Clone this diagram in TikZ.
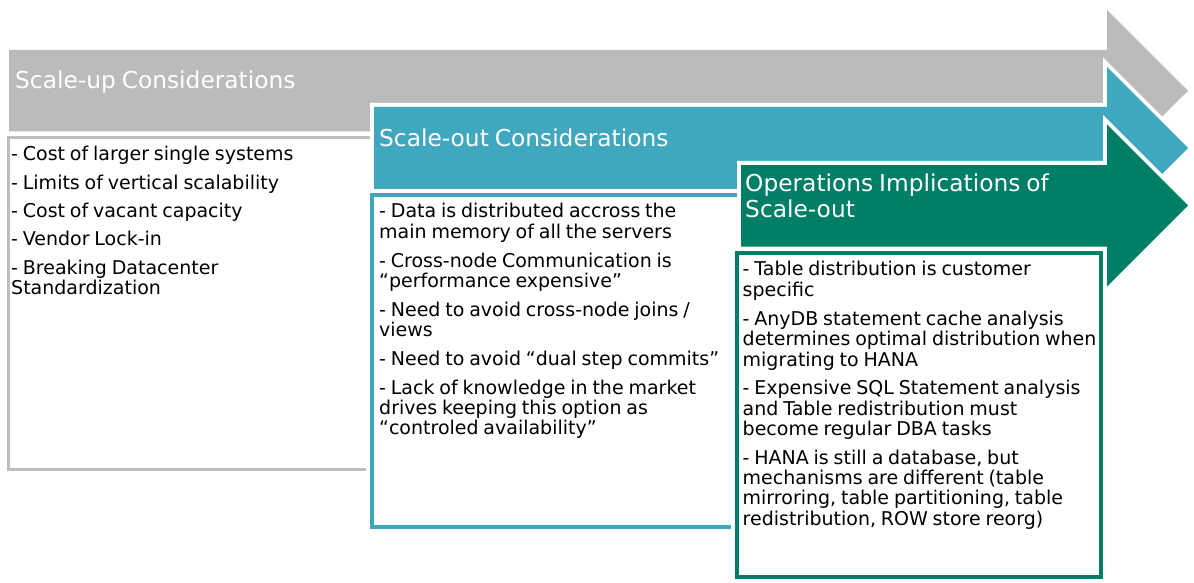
\documentclass[tikz,border=0pt]{standalone}
\usepackage{fontspec}
\setmainfont{DejaVu Sans}[WordSpace=0.8]
\definecolor{upgrey}{RGB}{186,187,189}
\definecolor{boxgrey}{RGB}{190,190,190}
\definecolor{outblue}{RGB}{64,168,190}
\definecolor{opsgreen}{RGB}{0,126,102}

\begin{document}
\begin{tikzpicture}[x=1pt,y=-1pt,
  header/.style={preaction={draw=white,line width=8pt}},
  listbox/.style={fill=white,line width=3.5pt,preaction={draw=white,line width=11.5pt}},
  titletext/.style={anchor=north west,inner sep=0pt,align=left,text=white,font=\fontsize{23.3}{24.3}\selectfont},
  listtext/.style={anchor=north west,inner sep=0pt,align=left,text=black,font=\fontsize{19}{20.3}\selectfont}
]
\useasboundingbox (0,0) rectangle (1194,583);

% scale-up
\fill[upgrey,header] (9,50) -- (1107,50) -- (1107,10) -- (1188,90.75) -- (1107,171.5) -- (1107,131.5) -- (9,131.5) -- cycle;
\draw[listbox,draw=boxgrey] (8.5,137.5) rectangle (720,469.5);

% scale-out
\fill[outblue,header] (374,107) -- (1107,107) -- (1107,67) -- (1188,148) -- (1107,229) -- (1107,189) -- (374,189) -- cycle;
\draw[listbox,draw=outblue] (372,195) rectangle (1000,527);

% operations
\fill[opsgreen,header] (741,165) -- (1107,165) -- (1107,124.5) -- (1188,205.5) -- (1107,286.5) -- (1107,246.5) -- (741,246.5) -- cycle;
\draw[listbox,draw=opsgreen] (737,253) rectangle (1101,577);

\node[titletext] (h1) at (15,71) {\strut Scale-up Considerations};
\node[titletext] (h2) at (379,129) {\strut Scale-out Considerations};
\node[titletext] (h3) at (745,173.7) {\strut Operations Implications of\\Scale-out};

\node[listtext] (b1) at (11,145.8) {\strut- Cost of larger single systems\\[7.8pt]
- Limits of vertical scalability\\[7.8pt]
- Cost of vacant capacity\\[7.8pt]
- Vendor Lock-in\\[7.8pt]
- Breaking Datacenter\\Standardization};

\node[listtext] (b2) at (379,202.8) {\strut- Data is distributed accross the\\main memory of all the servers\\[8.4pt]
- Cross-node Communication is\\“performance expensive”\\[8.4pt]
- Need to avoid cross-node joins /\\views\\[8.4pt]
- Need to avoid “dual step commits”\\[8.4pt]
- Lack of knowledge in the market\\drives keeping this option as\\“controled availability”};

\node[listtext] (b3) at (742.5,260.8) {\strut- Table distribution is customer\\specific\\[8.4pt]
- AnyDB statement cache analysis\\determines optimal distribution when\\migrating to HANA\\[8.4pt]
- Expensive SQL Statement analysis\\and Table redistribution must\\become regular DBA tasks\\[8.4pt]
- HANA is still a database, but\\mechanisms are different (table\\mirroring, table partitioning, table\\redistribution, ROW store reorg)};

\end{tikzpicture}
\end{document}
